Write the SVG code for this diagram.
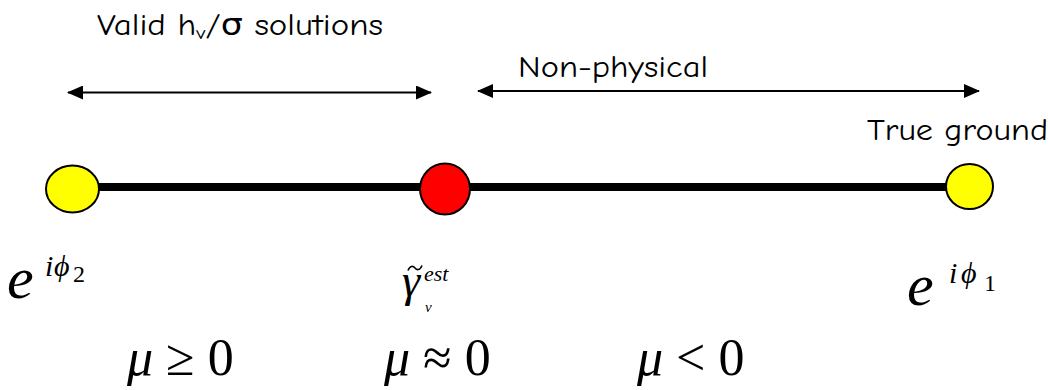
<svg xmlns="http://www.w3.org/2000/svg" width="1048" height="390" viewBox="0 0 1048 390">
<style>
.lbl{font-family:"Comic Neue","DejaVu Sans","Liberation Sans",sans-serif;font-size:30px;fill:#000}
.m{font-family:"Liberation Serif","Times New Roman",serif;fill:#000}
.it{font-style:italic}
.arr{stroke:#000;stroke-width:2;fill:none}
</style>
<defs>
<marker id="ah" viewBox="0 0 16 14" refX="15" refY="7" markerWidth="16" markerHeight="14" markerUnits="userSpaceOnUse" orient="auto-start-reverse">
<path d="M0,0 L16,7 L0,14 Z" fill="#000"/>
</marker>
</defs>
<rect width="1048" height="390" fill="#fff"/>
<g id="connectors">
<line x1="99" y1="187" x2="946" y2="187" stroke="#000" stroke-width="8"/>
<line class="arr" x1="68" y1="92.5" x2="431" y2="92.5" marker-start="url(#ah)" marker-end="url(#ah)"/>
<line class="arr" x1="478" y1="91" x2="979" y2="91" marker-start="url(#ah)" marker-end="url(#ah)"/>
</g>
<g id="node-left">
<ellipse cx="72.5" cy="189" rx="26.5" ry="23.5" fill="#ffff00" stroke="#000" stroke-width="2"/>
</g>
<g id="node-mid">
<ellipse cx="445" cy="189" rx="25" ry="25.5" fill="#ff0000" stroke="#000" stroke-width="2"/>
</g>
<g id="node-right">
<ellipse cx="969.5" cy="186.5" rx="23.5" ry="22.5" fill="#ffff00" stroke="#000" stroke-width="2"/>
</g>
<g id="labels">
<text class="lbl" x="97" y="35" textLength="286" lengthAdjust="spacingAndGlyphs">Valid h<tspan font-size="19" dy="4">v</tspan><tspan dy="-4">/σ solutions</tspan></text>
<text class="lbl" x="518" y="77" textLength="190" lengthAdjust="spacingAndGlyphs">Non-physical</text>
<text class="lbl" x="867" y="140" textLength="181" lengthAdjust="spacingAndGlyphs">True ground</text>
<text class="m it" x="7" y="298" font-size="60">e</text>
<text class="m it" x="45" y="276" font-size="30">i</text>
<text class="m it" x="54" y="276" font-size="30">ϕ</text>
<text class="m" x="73" y="282" font-size="24">2</text>
<path d="M408,270.5 C410,265.5 413,265.5 415,268 C417,270.5 420,270.5 422,265.5" fill="none" stroke="#000" stroke-width="1.6"/>
<text class="m it" x="402" y="296" font-size="46">γ</text>
<text class="m it" x="424" y="281" font-size="22">est</text>
<text class="m it" x="425" y="312" font-size="15">v</text>
<text class="m it" x="907" y="305" font-size="60">e</text>
<text class="m it" x="949" y="283" font-size="30">i</text>
<text class="m it" x="961" y="283" font-size="30">ϕ</text>
<text class="m" x="984" y="291" font-size="24">1</text>
<text class="m" x="127" y="375" font-size="52"><tspan class="it">μ</tspan> ≥ 0</text>
<text class="m" x="384" y="375" font-size="52"><tspan class="it">μ</tspan> ≈ 0</text>
<text class="m" x="637" y="375" font-size="52"><tspan class="it">μ</tspan> &lt; 0</text>
</g>
</svg>
